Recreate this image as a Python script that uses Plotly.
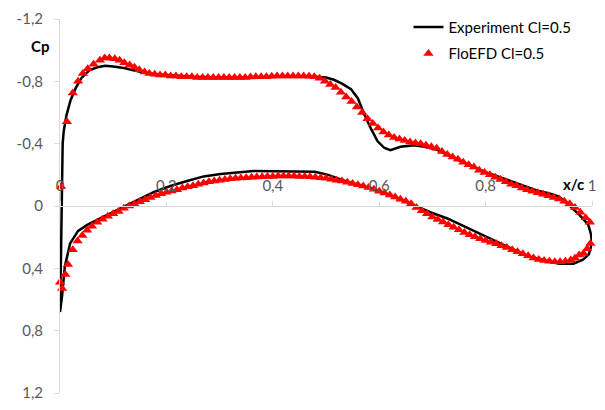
import plotly.graph_objects as go

# ---------------- data ----------------
# Experiment Cl=0.5: one continuous line (lower surface TE -> LE -> upper surface -> TE)
exp_x = [0.938, 0.914, 0.882, 0.853, 0.821, 0.789, 0.759, 0.728, 0.696, 0.666, 0.634,
         0.603, 0.573, 0.541, 0.504, 0.479, 0.416, 0.364, 0.302, 0.270, 0.239, 0.209,
         0.177, 0.146, 0.116, 0.084, 0.052, 0.034, 0.019, 0.009, 0.004, 0.000,
         0.002, 0.003, 0.004, 0.005, 0.007, 0.012, 0.020, 0.030, 0.040, 0.055, 0.070,
         0.085, 0.100, 0.120, 0.140, 0.160, 0.180, 0.200, 0.250, 0.300, 0.350, 0.400,
         0.450, 0.480, 0.500, 0.515, 0.530, 0.547, 0.560, 0.573, 0.584, 0.597, 0.610,
         0.621, 0.640, 0.666, 0.685, 0.709, 0.733, 0.760, 0.784, 0.810, 0.834, 0.871,
         0.896, 0.920, 0.938, 0.957, 0.976, 0.993, 0.998, 1.000, 0.994, 0.983, 0.965, 0.938]
exp_cp = [0.370, 0.350, 0.325, 0.280, 0.230, 0.180, 0.130, 0.080, 0.040, -0.006, -0.050,
          -0.090, -0.125, -0.155, -0.200, -0.220, -0.225, -0.225, -0.205, -0.190, -0.160, -0.130,
          -0.090, -0.040, 0.010, 0.065, 0.120, 0.160, 0.240, 0.390, 0.575, 0.680,
          0.300, 0.000, -0.250, -0.400, -0.480, -0.580, -0.680, -0.760, -0.820, -0.870, -0.890,
          -0.900, -0.895, -0.885, -0.870, -0.855, -0.845, -0.840, -0.830, -0.825, -0.825, -0.830,
          -0.830, -0.830, -0.825, -0.810, -0.785, -0.750, -0.690, -0.580, -0.500, -0.415, -0.372,
          -0.358, -0.380, -0.390, -0.380, -0.360, -0.320, -0.275, -0.240, -0.205, -0.175, -0.130,
          -0.100, -0.080, -0.060, -0.005, 0.055, 0.120, 0.180, 0.240, 0.310, 0.345, 0.370, 0.370]

# FloEFD Cl=0.5: upper surface (LE -> TE, around the trailing edge)
efd_up_x = [0.002, 0.013, 0.024, 0.034, 0.043, 0.052, 0.063, 0.075, 0.084, 0.093, 0.103,
            0.112, 0.121, 0.131, 0.140, 0.149, 0.159, 0.168, 0.178, 0.188, 0.198, 0.208,
            0.218, 0.228, 0.238, 0.248, 0.258, 0.268, 0.278, 0.288, 0.298, 0.308, 0.318,
            0.328, 0.338, 0.348, 0.358, 0.368, 0.378, 0.388, 0.398, 0.408, 0.418, 0.428,
            0.438, 0.448, 0.458, 0.468, 0.478, 0.488, 0.498, 0.508, 0.518, 0.528, 0.538,
            0.548, 0.558, 0.568, 0.578, 0.588, 0.598, 0.608, 0.618, 0.628, 0.638, 0.648,
            0.658, 0.668, 0.678, 0.688, 0.698, 0.708, 0.718, 0.728, 0.738, 0.748, 0.758,
            0.768, 0.778, 0.788, 0.798, 0.808, 0.818, 0.828, 0.838, 0.848, 0.858, 0.868,
            0.878, 0.888, 0.898, 0.908, 0.918, 0.928, 0.938, 0.948, 0.958, 0.968, 0.978,
            0.988, 0.996, 1.002, 1.004, 1.002, 0.997, 0.991, 0.984]
efd_up_cp = [-0.125, -0.540, -0.725, -0.800, -0.850, -0.880, -0.910, -0.935, -0.950, -0.950, -0.945,
             -0.935, -0.920, -0.905, -0.890, -0.875, -0.860, -0.850, -0.845, -0.840, -0.840, -0.835,
             -0.835, -0.830, -0.830, -0.830, -0.825, -0.825, -0.825, -0.825, -0.825, -0.825, -0.825,
             -0.825, -0.825, -0.825, -0.828, -0.830, -0.830, -0.830, -0.832, -0.835, -0.835, -0.835,
             -0.835, -0.835, -0.835, -0.832, -0.830, -0.820, -0.800, -0.780, -0.760, -0.730, -0.700,
             -0.670, -0.635, -0.600, -0.560, -0.530, -0.500, -0.475, -0.455, -0.440, -0.430, -0.420,
             -0.410, -0.405, -0.400, -0.390, -0.380, -0.370, -0.350, -0.330, -0.315, -0.300, -0.280,
             -0.265, -0.250, -0.230, -0.215, -0.200, -0.185, -0.170, -0.155, -0.140, -0.130, -0.115,
             -0.105, -0.095, -0.085, -0.075, -0.065, -0.055, -0.045, -0.030, -0.015, 0.010, 0.040,
             0.075, 0.105, 0.135, 0.170, 0.205, 0.240, 0.275, 0.305]

# FloEFD Cl=0.5: lower surface (LE -> TE)
efd_lo_x = [0.000, 0.004, 0.010, 0.015, 0.024, 0.033, 0.042, 0.051, 0.060, 0.070, 0.080,
            0.090, 0.100, 0.110, 0.120, 0.130, 0.140, 0.150, 0.160, 0.170, 0.180, 0.190,
            0.200, 0.210, 0.220, 0.230, 0.240, 0.250, 0.260, 0.270, 0.280, 0.290, 0.300,
            0.310, 0.320, 0.330, 0.340, 0.350, 0.360, 0.370, 0.380, 0.390, 0.400, 0.410,
            0.420, 0.430, 0.440, 0.450, 0.460, 0.470, 0.480, 0.490, 0.500, 0.510, 0.520,
            0.530, 0.540, 0.550, 0.560, 0.570, 0.580, 0.590, 0.600, 0.610, 0.620, 0.630,
            0.640, 0.650, 0.660, 0.670, 0.680, 0.690, 0.700, 0.710, 0.720, 0.730, 0.740,
            0.750, 0.760, 0.770, 0.780, 0.790, 0.800, 0.810, 0.820, 0.830, 0.840, 0.850,
            0.860, 0.870, 0.880, 0.890, 0.900, 0.910, 0.920, 0.930, 0.940, 0.950, 0.960,
            0.968, 0.976]
efd_lo_cp = [0.490, 0.530, 0.440, 0.375, 0.280, 0.225, 0.190, 0.155, 0.130, 0.105, 0.085,
             0.065, 0.050, 0.035, 0.015, 0.000, -0.013, -0.028, -0.040, -0.055, -0.067, -0.078,
             -0.088, -0.097, -0.105, -0.115, -0.123, -0.130, -0.140, -0.148, -0.155, -0.160, -0.165,
             -0.170, -0.175, -0.178, -0.180, -0.182, -0.184, -0.186, -0.188, -0.190, -0.190, -0.192,
             -0.192, -0.192, -0.192, -0.190, -0.190, -0.188, -0.185, -0.182, -0.178, -0.172, -0.166,
             -0.160, -0.153, -0.145, -0.137, -0.128, -0.118, -0.107, -0.095, -0.083, -0.070, -0.057,
             -0.043, -0.030, -0.015, 0.010, 0.030, 0.050, 0.070, 0.087, 0.103, 0.120, 0.137,
             0.153, 0.170, 0.185, 0.198, 0.210, 0.222, 0.232, 0.243, 0.255, 0.267, 0.280,
             0.293, 0.307, 0.320, 0.333, 0.343, 0.350, 0.355, 0.358, 0.358, 0.355, 0.347,
             0.335, 0.315]

y_tickvals = [-1.2, -0.8, -0.4, 0.0, 0.4, 0.8, 1.2]
y_ticktext = ["-1,2", "-0,8", "-0,4", "0", "0,4", "0,8", "1,2"]
x_tickvals = [0.0, 0.2, 0.4, 0.6, 0.8, 1.0]
x_ticktext = ["0", "0,2", "0,4", "0,6", "0,8", "1"]

FONT = "Lato"
GREY = "#595959"
AXIS = "#d9d9d9"

fig = go.Figure()
fig.add_trace(go.Scatter(
    x=exp_x, y=exp_cp, mode="lines", name="Experiment Cl=0.5", legendgroup="exp",
    line=dict(color="#000000", width=2.5), cliponaxis=False,
))
fig.add_trace(go.Scatter(
    x=efd_up_x + efd_lo_x, y=efd_up_cp + efd_lo_cp, mode="markers", name="FloEFD Cl=0.5",
    legendgroup="efd",
    marker=dict(symbol="triangle-up", size=9, color="#ff0000", line=dict(width=0)),
    cliponaxis=False,
))

fig.update_layout(
    width=605, height=410,
    margin=dict(l=60, r=9, t=17, b=11),
    paper_bgcolor="white", plot_bgcolor="white",
    font=dict(family=FONT, size=15, color=GREY),
    showlegend=True,
    legend=dict(
        x=0.655, y=1.022, xanchor="left", yanchor="top",
        font=dict(family=FONT, size=15, color="#000000"),
        bgcolor="rgba(0,0,0,0)", itemwidth=30, tracegroupgap=4,
    ),
    xaxis=dict(
        range=[0, 1], anchor="free", position=0.5, side="top",
        showline=True, linecolor=AXIS, linewidth=1,
        showgrid=False, zeroline=False,
        ticks="outside", ticklen=5, tickcolor=AXIS,
        tickvals=x_tickvals, ticktext=x_ticktext,
        tickfont=dict(family=FONT, size=15, color=GREY),
        ticklabelstandoff=4,
    ),
    yaxis=dict(
        range=[1.2, -1.2],
        showline=True, linecolor=AXIS, linewidth=1,
        showgrid=False, zeroline=False,
        ticks="outside", ticklen=5, tickcolor=AXIS,
        tickvals=y_tickvals, ticktext=y_ticktext,
        tickfont=dict(family=FONT, size=15, color=GREY),
        ticklabelstandoff=8,
    ),
    annotations=[
        dict(text="<b>Cp</b>", xref="paper", yref="paper", x=-0.037, y=0.927,
             xanchor="center", yanchor="middle", showarrow=False,
             font=dict(family=FONT, size=15, color="#000000")),
        dict(text="<b>x/c</b>", xref="paper", yref="paper", x=0.989, y=0.560,
             xanchor="right", yanchor="middle", showarrow=False,
             font=dict(family=FONT, size=15, color="#000000")),
    ],
)

fig.write_html("out.html")
